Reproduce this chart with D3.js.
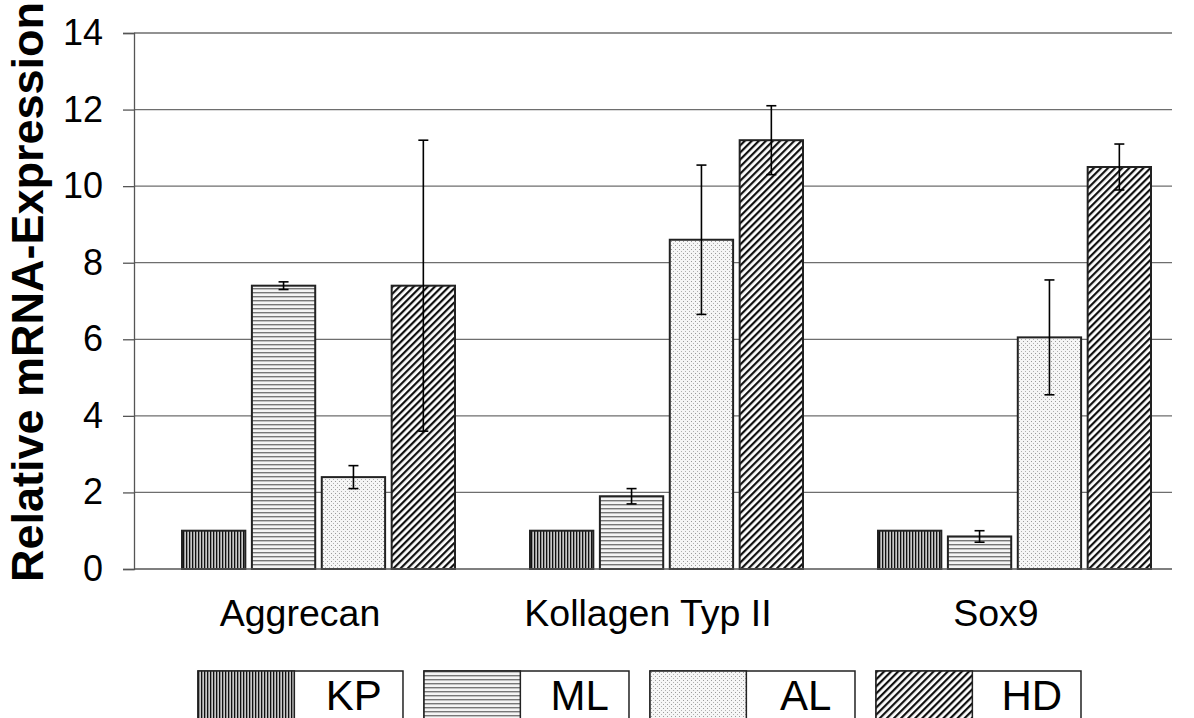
<!DOCTYPE html>
<html>
<head>
<meta charset="utf-8">
<script src="https://cdn.jsdelivr.net/npm/d3@7"></script>
<style>
body { margin:0; background:#fff; }
svg { display:block; font-family: Arial, "Liberation Sans", sans-serif; }
</style>
</head>
<body>
<svg id="chart" width="1194" height="718"></svg>
<script>
const categories = ["Aggrecan", "Kollagen Typ II", "Sox9"];
const seriesNames = ["KP", "ML", "AL", "HD"];
const KP = [1.0, 1.0, 1.0];
const ML = [7.4, 1.9, 0.85];
const AL = [2.4, 8.6, 6.05];
const HD = [7.4, 11.2, 10.5];
const KP_err = [0, 0, 0];
const ML_err = [0.1, 0.2, 0.15];
const AL_err = [0.3, 1.95, 1.5];
const HD_err = [3.8, 0.9, 0.6];
const yTicks = [0, 2, 4, 6, 8, 10, 12, 14];

(function() {
const values = {KP, ML, AL, HD};
const errors = {KP: KP_err, ML: ML_err, AL: AL_err, HD: HD_err};

const svg = d3.select("#chart");
const defs = svg.append("defs");

function pat(id, w, h, build) {
  const p = defs.append("pattern").attr("id", id).attr("patternUnits", "userSpaceOnUse")
    .attr("width", w).attr("height", h);
  build(p);
}
pat("pKP", 3, 3, p => {
  p.append("rect").attr("width", 3).attr("height", 3).attr("fill", "#c8c8c8");
  p.append("rect").attr("x", 0).attr("width", 1.3).attr("height", 3).attr("fill", "#111");
});
pat("pML", 4, 4, p => {
  p.append("rect").attr("width", 4).attr("height", 4).attr("fill", "#f4f4f4");
  p.append("rect").attr("y", 0).attr("width", 4).attr("height", 1.4).attr("fill", "#777");
});
pat("pAL", 4, 4, p => {
  p.append("rect").attr("width", 4).attr("height", 4).attr("fill", "#f6f6f6");
  p.append("rect").attr("x", 1).attr("y", 1).attr("width", 1).attr("height", 1).attr("fill", "#9a9a9a");
  p.append("rect").attr("x", 3).attr("y", 3).attr("width", 1).attr("height", 1).attr("fill", "#b0b0b0");
});
pat("pHD", 5, 5, p => {
  p.attr("patternTransform", "rotate(45)");
  p.append("rect").attr("width", 5).attr("height", 5).attr("fill", "#fff");
  p.append("rect").attr("x", 0).attr("width", 2.2).attr("height", 5).attr("fill", "#111");
});
const fills = {KP: "url(#pKP)", ML: "url(#pML)", AL: "url(#pAL)", HD: "url(#pHD)"};

const mLeft = 134, mRight = 1172, mTop = 33, mBottom = 569;

const y = d3.scaleLinear().domain([0, 14]).range([mBottom, mTop]);
const x0 = d3.scaleBand().domain(categories).range([126, 1170]);
const x1 = d3.scaleBand().domain(seriesNames).range([56, 329]).paddingInner(0.094);

svg.append("g").selectAll("line").data(yTicks.filter(d => d > 0)).join("line")
  .attr("x1", mLeft).attr("x2", mRight)
  .attr("y1", d => y(d)).attr("y2", d => y(d))
  .attr("stroke", "#6e6e6e").attr("stroke-width", 1.3);

const yAxis = svg.append("g").attr("transform", `translate(${mLeft},0)`)
  .call(d3.axisLeft(y).tickValues(yTicks).tickSize(11).tickPadding(20).tickFormat(d3.format("d")));
yAxis.select(".domain").attr("stroke", "#555").attr("stroke-width", 1.3);
yAxis.selectAll(".tick line").attr("stroke", "#555").attr("stroke-width", 1.3);
yAxis.selectAll("text").attr("font-size", 36).attr("fill", "#000")
  .attr("font-family", "Arial, 'Liberation Sans', sans-serif");

const groups = svg.append("g").selectAll("g").data(categories).join("g")
  .attr("transform", d => `translate(${x0(d)},0)`);
groups.each(function(cat, ci) {
  const g = d3.select(this);
  seriesNames.forEach(s => {
    const v = values[s][ci];
    g.append("rect")
      .attr("x", x1(s)).attr("width", x1.bandwidth())
      .attr("y", y(v)).attr("height", y(0) - y(v))
      .attr("fill", fills[s]).attr("stroke", "#222").attr("stroke-width", 2);
  });
  seriesNames.forEach(s => {
    const v = values[s][ci], e = errors[s][ci];
    if (e <= 0) return;
    const cx = x1(s) + x1.bandwidth() / 2;
    g.append("line").attr("x1", cx).attr("x2", cx).attr("y1", y(v + e)).attr("y2", y(v - e))
      .attr("stroke", "#000").attr("stroke-width", 1.6);
    [v + e, v - e].forEach(t => {
      g.append("line").attr("x1", cx - 5).attr("x2", cx + 5).attr("y1", y(t)).attr("y2", y(t))
        .attr("stroke", "#000").attr("stroke-width", 1.6);
    });
  });
});

svg.append("line").attr("x1", mLeft).attr("x2", mRight).attr("y1", mBottom).attr("y2", mBottom)
  .attr("stroke", "#555").attr("stroke-width", 1.3);

svg.append("g").selectAll("text").data(categories).join("text")
  .attr("x", d => x0(d) + x0.bandwidth() / 2).attr("y", 626)
  .attr("text-anchor", "middle").attr("font-size", 37.5).attr("fill", "#000")
  .text(d => d);

svg.append("text")
  .attr("transform", "translate(43,292) rotate(-90)")
  .attr("text-anchor", "middle").attr("font-size", 45).attr("font-weight", "bold")
  .attr("fill", "#000").text("Relative mRNA-Expression");

const lx = d3.scaleBand().domain(seriesNames).range([198, 1081]).paddingInner(0.093);
const leg = svg.append("g").selectAll("g").data(seriesNames).join("g")
  .attr("transform", d => `translate(${lx(d)},671)`);
leg.append("rect").attr("width", lx.bandwidth()).attr("height", 70)
  .attr("fill", "#fff").attr("stroke", "#222").attr("stroke-width", 1.5);
leg.append("rect").attr("width", lx.bandwidth() * 0.47).attr("height", 70)
  .attr("fill", d => fills[d]).attr("stroke", "#222").attr("stroke-width", 1.5);
leg.append("text").attr("x", lx.bandwidth() * 0.76).attr("y", 39)
  .attr("text-anchor", "middle").attr("font-size", 42).attr("fill", "#000")
  .text(d => d);
})();
</script>
</body>
</html>
